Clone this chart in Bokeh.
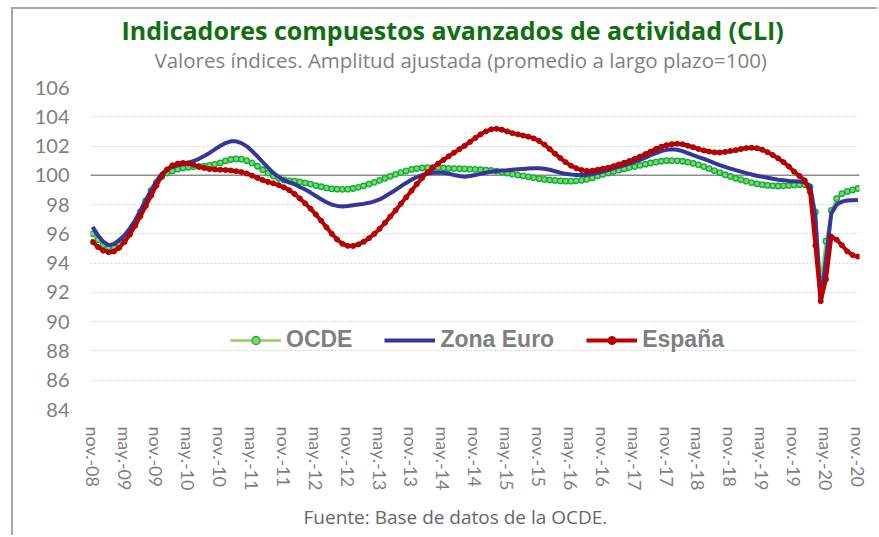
from bokeh.plotting import figure
from bokeh.models import Range1d, FixedTicker, Span, Title, Legend, LegendItem
from bokeh.embed import file_html
from bokeh.resources import INLINE

# ---------------- data (monthly, nov-08 .. nov-20) ----------------
tick_labels = ["nov.-08", "may.-09", "nov.-09", "may.-10", "nov.-10", "may.-11",
               "nov.-11", "may.-12", "nov.-12", "may.-13", "nov.-13", "may.-14",
               "nov.-14", "may.-15", "nov.-15", "may.-16", "nov.-16", "may.-17",
               "nov.-17", "may.-18", "nov.-18", "may.-19", "nov.-19", "may.-20",
               "nov.-20"]

y_ticks = [84, 86, 88, 90, 92, 94, 96, 98, 100, 102, 104, 106]

ocde = [
    96.0, 95.6, 95.25, 95.05, 95.05, 95.25, 95.6, 96.1, 96.7, 97.5, 98.25, 98.95,
    99.5, 99.9, 100.15, 100.3, 100.42, 100.5, 100.55, 100.58, 100.6, 100.62, 100.68, 100.75,
    100.85, 100.98, 101.08, 101.12, 101.1, 101.0, 100.85, 100.62, 100.38, 100.15, 99.95, 99.8,
    99.68, 99.62, 99.6, 99.55, 99.48, 99.4, 99.3, 99.22, 99.14, 99.08, 99.05, 99.04,
    99.05, 99.1, 99.18, 99.28, 99.4, 99.52, 99.65, 99.8, 99.93, 100.06, 100.18, 100.3,
    100.4, 100.46, 100.5, 100.52, 100.52, 100.52, 100.5, 100.48, 100.46, 100.45, 100.44, 100.42,
    100.4, 100.38, 100.36, 100.33, 100.28, 100.22, 100.15, 100.08, 100.02, 99.96, 99.9, 99.84,
    99.78, 99.72, 99.68, 99.65, 99.62, 99.6, 99.6, 99.62, 99.66, 99.72, 99.82, 99.95,
    100.06, 100.16, 100.26, 100.35, 100.44, 100.52, 100.6, 100.68, 100.76, 100.84, 100.9, 100.96,
    101.0, 101.0, 100.99, 100.96, 100.9, 100.82, 100.72, 100.6, 100.46, 100.32, 100.18, 100.04,
    99.92, 99.8, 99.7, 99.6, 99.5, 99.42, 99.36, 99.31, 99.28, 99.27, 99.28, 99.3,
    99.33, 99.36, 99.36, 99.2, 97.5, 92.9, 95.5, 97.6, 98.4, 98.75, 98.9, 99.0,
    99.1,
]

zona_euro = [
    96.48, 95.9, 95.46, 95.23, 95.3, 95.57, 95.9, 96.37, 96.93, 97.6, 98.3, 98.98,
    99.6, 100.1, 100.4, 100.57, 100.68, 100.75, 100.84, 100.98, 101.13, 101.32, 101.53, 101.77,
    102.0, 102.2, 102.32, 102.32, 102.2, 101.98, 101.66, 101.3, 100.91, 100.52, 100.16, 99.89,
    99.66, 99.52, 99.39, 99.2, 99.03, 98.82, 98.59, 98.37, 98.16, 98.0, 97.91, 97.87,
    97.9, 97.95, 98.0, 98.05, 98.12, 98.22, 98.35, 98.55, 98.78, 99.0, 99.25, 99.48,
    99.7, 99.88, 100.02, 100.12, 100.18, 100.2, 100.18, 100.12, 100.02, 99.95, 99.9, 99.95,
    100.02, 100.1, 100.18, 100.25, 100.3, 100.33, 100.35, 100.38, 100.41, 100.44, 100.46, 100.48,
    100.48, 100.45, 100.38, 100.28, 100.18, 100.1, 100.05, 100.03, 100.02, 100.03, 100.08, 100.16,
    100.25, 100.36, 100.48, 100.58, 100.68, 100.8, 100.92, 101.05, 101.2, 101.38, 101.52, 101.65,
    101.74, 101.78, 101.75, 101.65, 101.52, 101.38, 101.25, 101.12, 100.98, 100.84, 100.7, 100.58,
    100.46, 100.35, 100.25, 100.15, 100.06, 99.97, 99.9, 99.83, 99.76, 99.7, 99.66, 99.62,
    99.6, 99.58, 99.5, 99.3, 97.2, 91.3, 94.3, 97.4, 98.0, 98.2, 98.28, 98.3,
    98.32,
]

espana = [
    95.45, 95.1, 94.85, 94.75, 94.8, 95.05, 95.45, 95.95, 96.55, 97.2, 97.9, 98.6,
    99.3, 99.95, 100.4, 100.68, 100.8, 100.84, 100.82, 100.72, 100.6, 100.5, 100.43, 100.4,
    100.38, 100.36, 100.33, 100.28, 100.22, 100.12, 99.98, 99.82, 99.68, 99.55, 99.45, 99.33,
    99.18, 98.98, 98.72, 98.42, 98.08, 97.72, 97.32, 96.9, 96.45, 96.0, 95.62, 95.32,
    95.18, 95.17, 95.28, 95.46, 95.7, 96.0, 96.35, 96.75, 97.18, 97.6, 98.05, 98.5,
    98.95, 99.4, 99.82, 100.2, 100.52, 100.8, 101.05, 101.3, 101.55, 101.78, 102.02, 102.28,
    102.55, 102.8, 103.0, 103.14, 103.18, 103.12, 103.0, 102.88, 102.8, 102.72, 102.64, 102.52,
    102.35, 102.1, 101.8, 101.48, 101.18, 100.9, 100.66, 100.48, 100.36, 100.3, 100.32, 100.38,
    100.45, 100.52, 100.62, 100.74, 100.86, 100.98, 101.12, 101.28, 101.45, 101.62, 101.8, 101.95,
    102.06, 102.13, 102.16, 102.12, 102.02, 101.92, 101.8, 101.7, 101.62, 101.57, 101.56, 101.6,
    101.66, 101.72, 101.8, 101.86, 101.88, 101.85, 101.75, 101.58, 101.38, 101.16, 100.9, 100.6,
    100.25, 99.95, 99.65, 98.85, 95.2, 91.4, 92.9, 95.8, 95.6, 95.22, 94.8, 94.55,
    94.45,
]

months = list(range(len(ocde)))
tick_positions = [6 * k for k in range(len(tick_labels))]

# ---------------- figure ----------------
p = figure(width=866, height=528, output_backend="svg", toolbar_location=None,
           title=None,
           x_range=Range1d(-0.4, 144.3), y_range=Range1d(84, 106),
           min_border_left=77, min_border_right=20,
           min_border_top=78, min_border_bottom=127)
p.styles = {"margin-left": "11px", "margin-top": "7px",
            "border-top": "2px solid #A6A6A6", "border-left": "2px solid #A6A6A6"}
p.outline_line_color = None
p.background_fill_color = "white"
p.border_fill_color = "white"

# axes
p.xaxis.ticker = FixedTicker(ticks=tick_positions)
p.xaxis.major_label_overrides = {pos: lab for pos, lab in zip(tick_positions, tick_labels)}
p.xaxis.major_label_orientation = "vertical"
p.yaxis.ticker = FixedTicker(ticks=y_ticks)
for ax in (p.xaxis, p.yaxis):
    ax.axis_line_color = None
    ax.major_tick_line_color = None
    ax.minor_tick_line_color = None
    ax.major_label_text_color = "#7F7F7F"
    ax.major_label_text_font = "Lato"
p.xaxis.major_label_text_font_size = "18px"
p.yaxis.major_label_text_font_size = "20px"
p.xaxis.major_label_standoff = 11
p.yaxis.major_label_standoff = 15

p.xgrid.grid_line_color = None
p.ygrid.grid_line_color = "#D4D4D4"
p.ygrid.grid_line_dash = "2 2"
p.ygrid.grid_line_width = 1

p.add_layout(Span(location=100, dimension="width", line_color="#8C8C8C",
                  line_width=1.5, level="underlay"))

# series
l1 = p.line(months, ocde, line_color="#92D050", line_width=2.5)
s1 = p.scatter(months, ocde, marker="circle", size=5.5, line_color="#00B050",
               fill_color="#92D050", line_width=1.3)
l2 = p.line(months, zona_euro, line_color="#35359A", line_width=4)
l3 = p.line(months, espana, line_color="#C00000", line_width=4)
s3 = p.scatter(months, espana, marker="circle", size=5, line_color="#A80000",
               fill_color="#C00000", line_width=1)

legend = Legend(items=[LegendItem(label="OCDE", renderers=[l1, s1]),
                       LegendItem(label="Zona Euro", renderers=[l2]),
                       LegendItem(label="España", renderers=[l3, s3])],
                orientation="horizontal", location=(140, 56),
                label_text_font="Liberation Sans", label_text_font_style="bold",
                label_text_font_size="23px", label_text_color="#7F7F7F",
                glyph_width=51, glyph_height=20, label_standoff=5, spacing=32,
                padding=0, margin=0, border_line_color=None,
                background_fill_alpha=0)
p.add_layout(legend)

# titles
p.add_layout(Title(text="Valores índices. Amplitud ajustada (promedio a largo plazo=100)",
                   align="left", text_font="Open Sans", text_font_size="20.5px",
                   text_font_style="normal", text_color="#7F7F7F", offset=64,
                   standoff=28), "above")
p.add_layout(Title(text="Indicadores compuestos avanzados de actividad (CLI)",
                   align="left", text_font="Open Sans", text_font_size="25px",
                   text_font_style="bold", text_color="#116E11", offset=31,
                   standoff=-35), "above")
p.add_layout(Title(text="Fuente: Base de datos de la OCDE.", align="left",
                   text_font="Open Sans", text_font_size="19px", text_font_style="normal",
                   text_color="#666666", offset=213, standoff=16), "below")

open("out.html", "w").write(file_html(p, INLINE))
